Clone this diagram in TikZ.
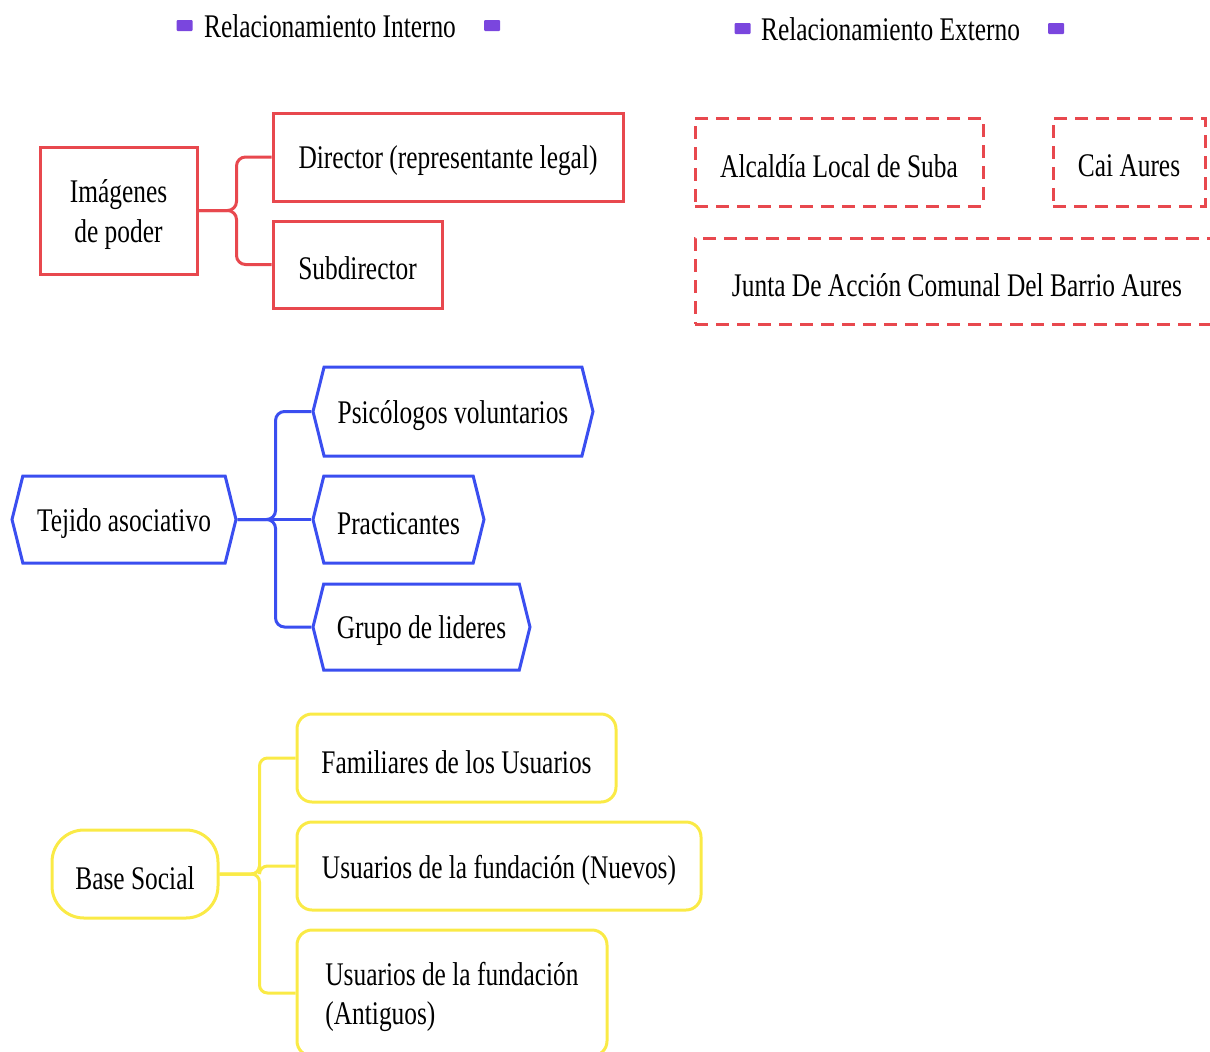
\documentclass[tikz,border=0pt]{standalone}
\usepackage{fontspec}
\usepackage{graphicx}
\usepackage{xcolor}
\usepackage{tikz}
\usetikzlibrary{shapes.symbols}
\setmainfont{Liberation Serif}
\definecolor{mapred}{RGB}{232,72,78}
\definecolor{mapblue}{RGB}{58,78,240}
\definecolor{mapyellow}{RGB}{250,234,70}
\definecolor{legpurple}{RGB}{122,70,222}
\def\legtxt#1{\scalebox{1}[1.3]{#1}}
\def\tall#1{\raisebox{-4pt}[\height][\depth]{\scalebox{1}[1.3]{#1}}}
\def\twolines#1#2{\tall{\begin{tabular}{@{}c@{}}#1\\#2\end{tabular}}}

\begin{document}
\begin{tikzpicture}[x=1pt,y=-1pt,font=\fontsize{25.4}{30.5}\selectfont]
    \tikzstyle{legsq}=[fill=legpurple,rounded corners=1pt,minimum width=16pt,minimum height=11pt,inner sep=0pt]
    \tikzstyle{redbox}=[draw=mapred,line width=3pt,inner sep=0pt]
    \tikzstyle{extbox}=[redbox,dash pattern=on 13pt off 8pt]
    \tikzstyle{bluebox}=[draw=mapblue,line width=3pt,inner sep=0pt,signal,signal to=east and west,signal pointer angle=152]
    \tikzstyle{yellowbox}=[draw=mapyellow,line width=3pt,inner sep=0pt,rounded corners=15pt]
    \tikzstyle{redline}=[draw=mapred,line width=3pt,rounded corners=9pt]
    \tikzstyle{blueline}=[draw=mapblue,line width=3pt,rounded corners=9pt]
    \tikzstyle{yellowline}=[draw=mapyellow,line width=3pt,rounded corners=8pt]
    \useasboundingbox (0,0) rectangle (1210,1052);

    % legend
    \node[legsq] (inA) at (184.5,25.5) {};
    \node (intern) at (330,26) {\legtxt{Relacionamiento Interno}};
    \node[legsq] (inB) at (492,25.5) {};
    \node[legsq] (exA) at (742.5,28.5) {};
    \node (extern) at (890.5,29) {\legtxt{Relacionamiento Externo}};
    \node[legsq] (exB) at (1056,28.5) {};

    % imagenes de poder
    \node[redbox,minimum width=157pt,minimum height=127pt] (img) at (118.5,210.5) {\twolines{Imágenes}{de poder}};
    \node[redbox,minimum width=350pt,minimum height=88pt] (dir) at (448,157) {\tall{Director (representante legal)}};
    \node[redbox,minimum width=169pt,minimum height=87pt] (sub) at (357.5,264.5) {\tall{Subdirector}};
    \draw[redline] (img.east) -- ++(38,0) |- (dir.west);
    \draw[redline] (img.east) -- ++(38,0) |- (sub.west);

    % externo
    \node[extbox,minimum width=288pt,minimum height=88pt] (alc) at (839,162) {\tall{Alcaldía Local de Suba}};
    \node[extbox,minimum width=152pt,minimum height=88pt] (cai) at (1129,162) {\tall{Cai Aures}};
    \node[extbox,minimum width=524pt,minimum height=86pt] (jac) at (957,281) {\tall{Junta De Acción Comunal Del Barrio Aures}};

    % tejido asociativo
    \node[bluebox,minimum width=224pt,minimum height=87pt] (tej) at (124,519.5) {\tall{Tejido asociativo}};
    \node[bluebox,minimum width=280pt,minimum height=89pt] (psi) at (453,411.5) {\tall{Psicólogos voluntarios}};
    \node[bluebox,minimum width=171pt,minimum height=87pt] (pra) at (398.5,519.5) {\tall{Practicantes}};
    \node[bluebox,minimum width=217pt,minimum height=86pt] (gru) at (421.5,627) {\tall{Grupo de lideres}};
    \draw[blueline] (tej.east) -- ++(38,0) |- (psi.west);
    \draw[blueline] (tej.east) -- (pra.west);
    \draw[blueline] (tej.east) -- ++(38,0) |- (gru.west);

    % base social
    \node[yellowbox,rounded corners=32pt,minimum width=166pt,minimum height=88pt] (base) at (135,874) {\tall{Base Social}};
    \node[yellowbox,minimum width=319pt,minimum height=88pt] (fam) at (456.5,758) {\tall{Familiares de los Usuarios}};
    \node[yellowbox,minimum width=404pt,minimum height=88pt] (nue) at (499,866) {\tall{Usuarios de la fundación (Nuevos)}};
    \node[yellowbox,minimum width=310pt,minimum height=126pt] (ant) at (452,993) {\tall{\begin{tabular}{@{}l@{}}Usuarios de la fundación\\(Antiguos)\end{tabular}}};
    \draw[yellowline] (base.east) -- ++(40,0) |- (fam.west);
    \draw[yellowline] (base.east) -- ++(40,0) |- (nue.west);
    \draw[yellowline] (base.east) -- ++(40,0) |- (ant.west);
\end{tikzpicture}
\end{document}
